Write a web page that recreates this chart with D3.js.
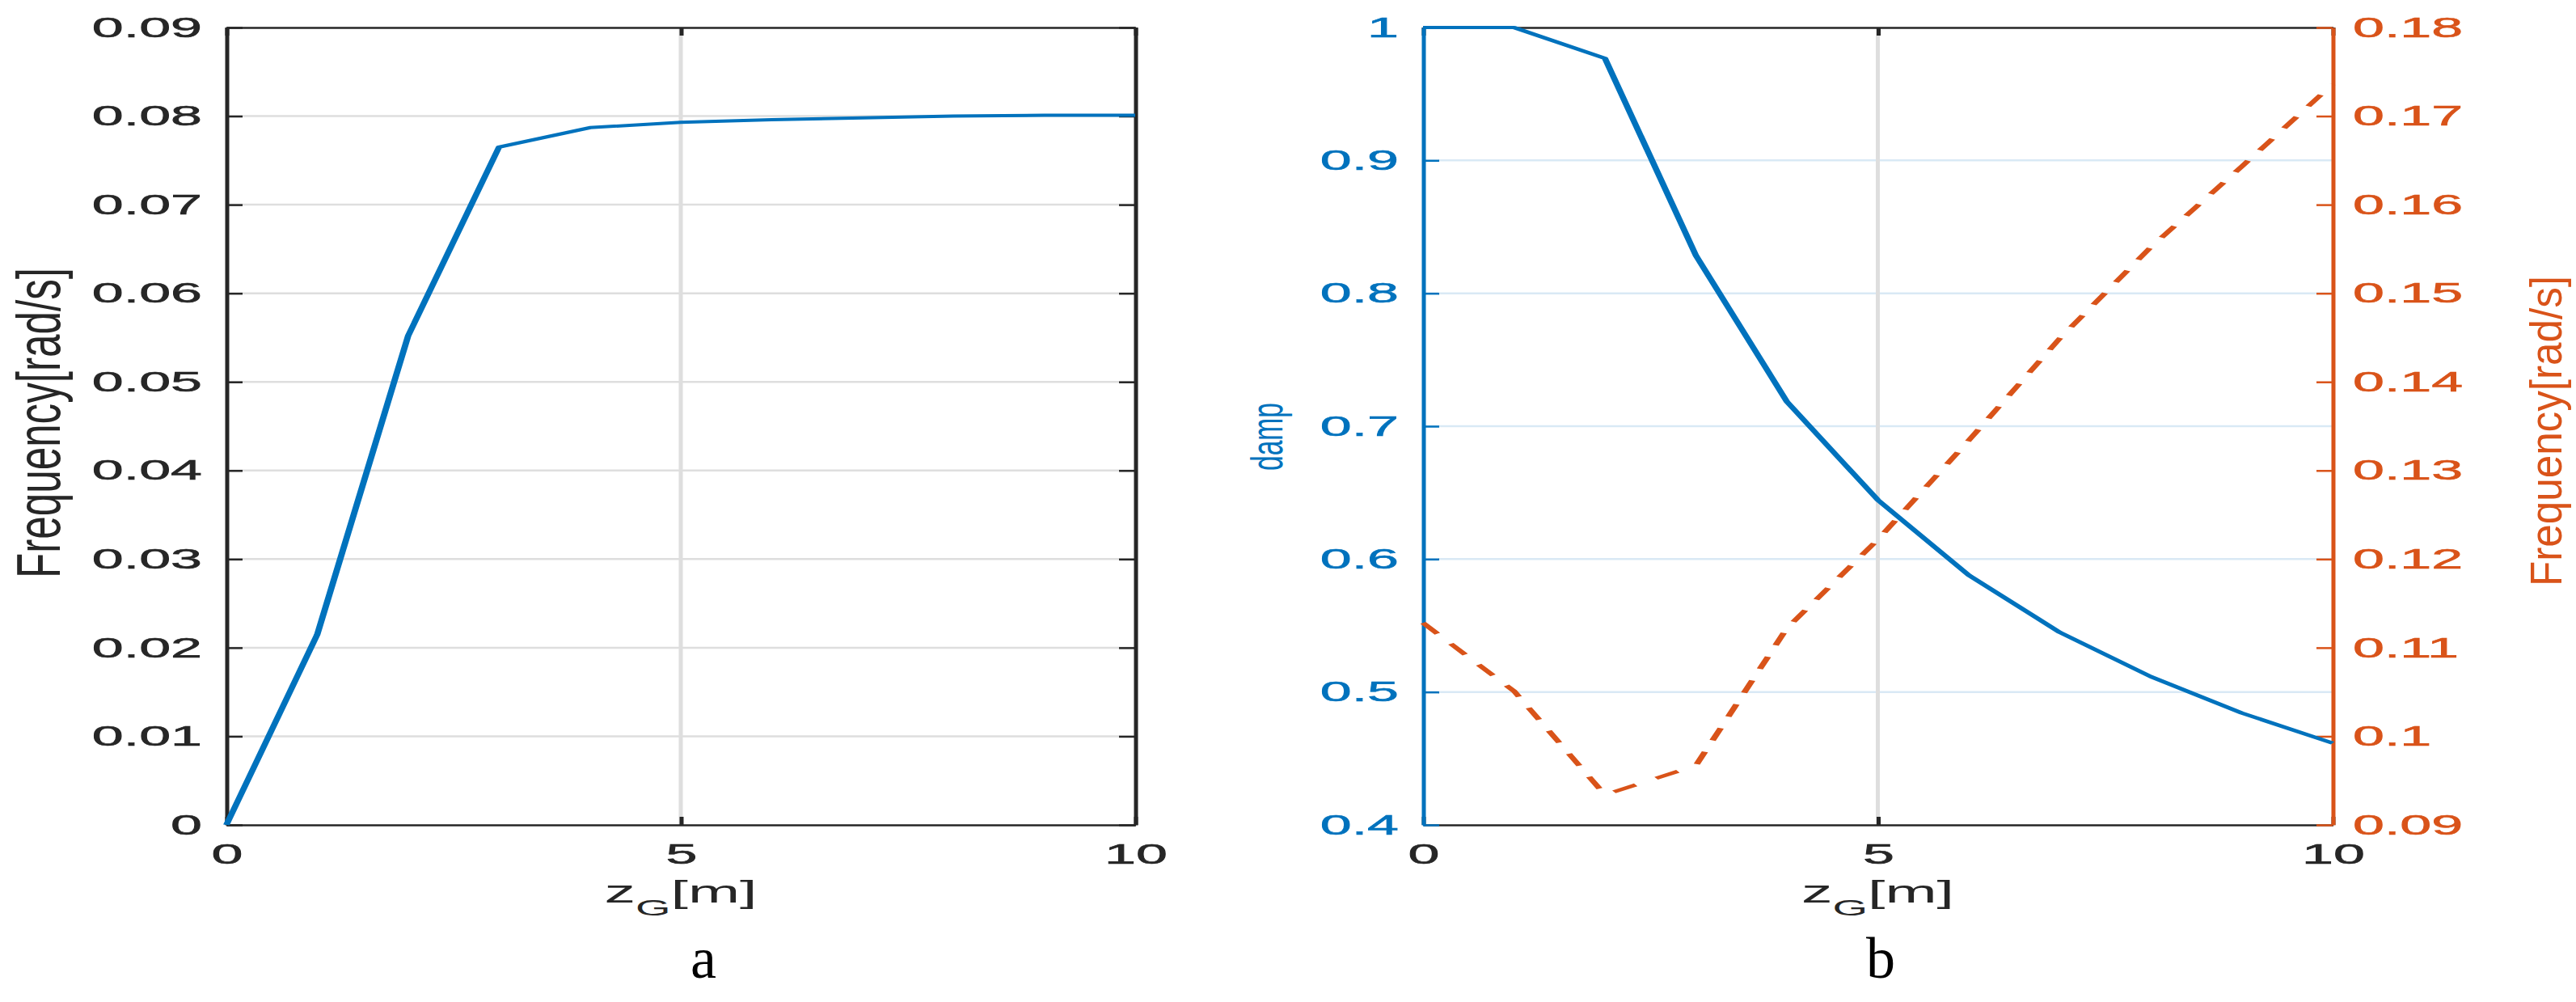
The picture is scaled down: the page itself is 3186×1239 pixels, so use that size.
<!DOCTYPE html>
<html>
<head>
<meta charset="utf-8">
<script src="https://cdn.jsdelivr.net/npm/d3@7"></script>
<style>
  html, body { margin: 0; padding: 0; background: #fff; }
  svg { display: block; }
</style>
</head>
<body>
<svg id="chart" width="3186" height="1239"></svg>
<script>
// ---------------- data ----------------
const zG = [0, 1, 2, 3, 4, 5, 6, 7, 8, 9, 10];
const freqA = [0, 0.0215, 0.0552, 0.0765, 0.0787, 0.0793, 0.0796, 0.0798, 0.0800, 0.0801, 0.0801];
const damp = [1.0, 1.0, 0.9768, 0.8285, 0.7185, 0.6445, 0.5879, 0.5449, 0.5116, 0.4842, 0.4615];
const freqB = [0.1128, 0.1051, 0.0934, 0.0967, 0.1122, 0.1222, 0.1334, 0.1449, 0.1552, 0.1643, 0.1736];

const xTicks = [0, 5, 10];
const xTickLabels = ["0", "5", "10"];
const yTicksA = [0, 0.01, 0.02, 0.03, 0.04, 0.05, 0.06, 0.07, 0.08, 0.09];
const yTickLabelsA = ["0", "0.01", "0.02", "0.03", "0.04", "0.05", "0.06", "0.07", "0.08", "0.09"];
const dampTicks = [0.4, 0.5, 0.6, 0.7, 0.8, 0.9, 1.0];
const dampTickLabels = ["0.4", "0.5", "0.6", "0.7", "0.8", "0.9", "1"];
const freqBTicks = [0.09, 0.10, 0.11, 0.12, 0.13, 0.14, 0.15, 0.16, 0.17, 0.18];
const freqBTickLabels = ["0.09", "0.1", "0.11", "0.12", "0.13", "0.14", "0.15", "0.16", "0.17", "0.18"];

const xLabelMain = "z", xLabelSub = "G", xLabelTail = "[m]";
const yLabelA = "Frequency[rad/s]";
const yLabelBLeft = "damp";
const yLabelBRight = "Frequency[rad/s]";
const panelLabels = ["a", "b"];

// ---------------- style / layout ----------------
const S = 2;                 // horizontal stretch of the whole picture
const AX = "#262626", BLUE = "#0072BD", ORANGE = "#D95319";
const GRID_GRAY = "#dedede", GRID_BLUE = "#d9e9f5";
const FONT = "'Liberation Sans', Arial, Helvetica, sans-serif";
const yTop = 34, yBot = 1020;
const panelA = { x0: 140, x1: 702 };
const panelB = { x0: 880, x1: 1442.5 };
const TICK = 10, AXW = 2.5, GRIDW = 2.5, LINEW = 4;

const svg = d3.select("#chart");
const g = svg.append("g").attr("transform", `scale(${S},1)`);

function fmtLabels(ticks, labels) {
  return (d) => labels[ticks.findIndex(t => Math.abs(t - d) < 1e-9)];
}

function styleAxis(sel, color, showText) {
  sel.select(".domain").attr("stroke", color).attr("stroke-width", AXW);
  sel.selectAll(".tick line").attr("stroke", color).attr("stroke-width", AXW);
  sel.selectAll(".tick text")
    .attr("fill", color)
    .attr("stroke", color).attr("stroke-width", 0.6)
    .style("font-family", FONT)
    .style("font-size", "35px")
    .style("display", showText ? null : "none");
}

function xAxisLabel(cx) {
  const t = g.append("text")
    .attr("x", cx).attr("y", 1116)
    .attr("text-anchor", "middle")
    .style("font-family", FONT).style("font-size", "38.5px")
    .attr("fill", AX);
  t.append("tspan").text(xLabelMain);
  t.append("tspan").attr("dy", 16).style("font-size", "28px").text(xLabelSub);
  t.append("tspan").attr("dy", -16).text(xLabelTail);
}

function yLabel(x, y, text, color, size, len) {
  g.append("text")
    .attr("transform", `translate(${x},${y}) rotate(-90)`)
    .attr("text-anchor", "middle")
    .attr("textLength", len)
    .attr("lengthAdjust", "spacingAndGlyphs")
    .style("font-family", FONT).style("font-size", size + "px")
    .attr("fill", color)
    .text(text);
}

// ---------------- panel a ----------------
{
  const x = d3.scaleLinear().domain([0, 10]).range([panelA.x0, panelA.x1]);
  const y = d3.scaleLinear().domain([0, 0.09]).range([yBot, yTop]);
  const grid = g.append("g");
  grid.selectAll("line.h").data(yTicksA.slice(1, -1)).join("line")
    .attr("x1", panelA.x0).attr("x2", panelA.x1)
    .attr("y1", d => y(d)).attr("y2", d => y(d))
    .attr("stroke", GRID_GRAY).attr("stroke-width", GRIDW);
  grid.selectAll("line.v").data(xTicks.slice(1, -1)).join("line")
    .attr("x1", d => x(d)).attr("x2", d => x(d))
    .attr("y1", yTop).attr("y2", yBot)
    .attr("stroke", GRID_GRAY).attr("stroke-width", GRIDW);

  const ax = (gen, tr, text) => styleAxis(g.append("g").attr("transform", tr).call(gen), AX, text);
  ax(d3.axisTop(x).tickValues(xTicks).tickSizeInner(-TICK).tickSizeOuter(0).tickFormat(() => ""), `translate(0,${yTop})`, false);
  ax(d3.axisRight(y).tickValues(yTicksA).tickSizeInner(-TICK).tickSizeOuter(0).tickFormat(() => ""), `translate(${panelA.x1},0)`, false);
  ax(d3.axisBottom(x).tickValues(xTicks).tickSizeInner(-TICK).tickSizeOuter(0).tickPadding(23)
      .tickFormat(fmtLabels(xTicks, xTickLabels)), `translate(0,${yBot})`, true);
  ax(d3.axisLeft(y).tickValues(yTicksA).tickSizeInner(-TICK).tickSizeOuter(0).tickPadding(15)
      .tickFormat(fmtLabels(yTicksA, yTickLabelsA)), `translate(${panelA.x0},0)`, true);

  g.append("path")
    .datum(zG.map((z, i) => [z, freqA[i]]))
    .attr("fill", "none").attr("stroke", BLUE).attr("stroke-width", LINEW)
    .attr("stroke-linejoin", "round")
    .attr("d", d3.line().x(d => x(d[0])).y(d => y(d[1])));

  xAxisLabel((panelA.x0 + panelA.x1) / 2);
  yLabel(37, 523, yLabelA, AX, 38, 384);
}

// ---------------- panel b ----------------
{
  const x = d3.scaleLinear().domain([0, 10]).range([panelB.x0, panelB.x1]);
  const yL = d3.scaleLinear().domain([0.4, 1.0]).range([yBot, yTop]);
  const yR = d3.scaleLinear().domain([0.09, 0.18]).range([yBot, yTop]);
  const grid = g.append("g");
  grid.selectAll("line.h").data(dampTicks.slice(1, -1)).join("line")
    .attr("x1", panelB.x0).attr("x2", panelB.x1)
    .attr("y1", d => yL(d)).attr("y2", d => yL(d))
    .attr("stroke", GRID_BLUE).attr("stroke-width", GRIDW);
  grid.selectAll("line.v").data(xTicks.slice(1, -1)).join("line")
    .attr("x1", d => x(d)).attr("x2", d => x(d))
    .attr("y1", yTop).attr("y2", yBot)
    .attr("stroke", GRID_GRAY).attr("stroke-width", GRIDW);

  const ax = (gen, tr, color, text) => styleAxis(g.append("g").attr("transform", tr).call(gen), color, text);
  ax(d3.axisTop(x).tickValues(xTicks).tickSizeInner(-TICK).tickSizeOuter(0).tickFormat(() => ""), `translate(0,${yTop})`, AX, false);
  ax(d3.axisBottom(x).tickValues(xTicks).tickSizeInner(-TICK).tickSizeOuter(0).tickPadding(23)
      .tickFormat(fmtLabels(xTicks, xTickLabels)), `translate(0,${yBot})`, AX, true);
  ax(d3.axisLeft(yL).tickValues(dampTicks).tickSizeInner(-TICK).tickSizeOuter(0).tickPadding(15)
      .tickFormat(fmtLabels(dampTicks, dampTickLabels)), `translate(${panelB.x0},0)`, BLUE, true);
  ax(d3.axisRight(yR).tickValues(freqBTicks).tickSizeInner(-TICK).tickSizeOuter(0).tickPadding(12.5)
      .tickFormat(fmtLabels(freqBTicks, freqBTickLabels)), `translate(${panelB.x1},0)`, ORANGE, true);

  g.append("path")
    .datum(zG.map((z, i) => [z, freqB[i]]))
    .attr("fill", "none").attr("stroke", ORANGE).attr("stroke-width", LINEW)
    .attr("stroke-dasharray", "16,15")
    .attr("d", d3.line().x(d => x(d[0])).y(d => yR(d[1])));
  g.append("path")
    .datum(zG.map((z, i) => [z, damp[i]]))
    .attr("fill", "none").attr("stroke", BLUE).attr("stroke-width", LINEW)
    .attr("stroke-linejoin", "round")
    .attr("d", d3.line().x(d => x(d[0])).y(d => yL(d[1])));

  xAxisLabel((panelB.x0 + panelB.x1) / 2);
  yLabel(793, 540, yLabelBLeft, BLUE, 28, 84);
  yLabel(1584, 533, yLabelBRight, ORANGE, 28, 384);
}

// ---------------- panel letters (not stretched) ----------------
svg.selectAll("text.panel").data(panelLabels).join("text")
  .attr("class", "panel")
  .attr("x", (d, i) => i === 0 ? 870 : 2326)
  .attr("y", 1209)
  .attr("text-anchor", "middle")
  .style("font-family", "'Liberation Serif', 'Times New Roman', serif")
  .style("font-size", "72px")
  .attr("fill", "#000")
  .text(d => d);
</script>
</body>
</html>
